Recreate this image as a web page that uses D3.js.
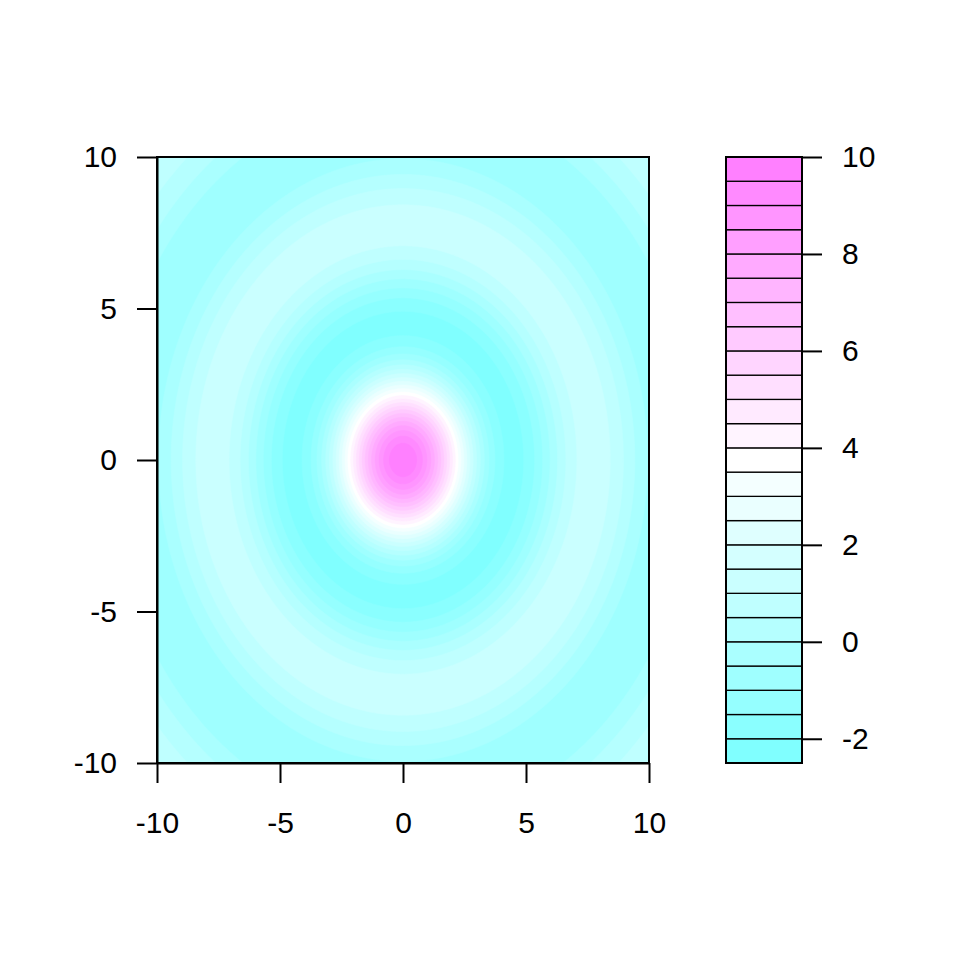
<!DOCTYPE html>
<html><head><meta charset="utf-8">
<script src="https://cdn.jsdelivr.net/npm/d3@7"></script>
<style>body{margin:0;background:#fff}</style>
</head><body>
<svg id="c" width="960" height="960"></svg>
<script>
// Data: surface z = 10*sin(r)/r on [-10,10]^2, filled-contour levels
const xDomain = [-10, 10];
const yDomain = [-10, 10];
const levels = d3.range(-2.5, 10.0001, 0.5).map(v => +v.toFixed(1)); // 26 breaks
const xTicks = [-10, -5, 0, 5, 10];
const yTicks = [-10, -5, 0, 5, 10];
const keyTicks = [-2, 0, 2, 4, 6, 8, 10];

// cm.colors(n) as in R
function cmColors(n) {
  const even = n % 2 === 0, k = Math.floor(n / 2);
  const l1 = k + 1 - (even ? 1 : 0), l2 = n - k + (even ? 1 : 0);
  const cols = [];
  const sEnd = even ? 0.5 / k : 0;
  for (let i = 0; i < l1; i++) {
    const s = l1 === 1 ? 0.5 : 0.5 + (sEnd - 0.5) * i / (l1 - 1);
    cols.push(d3.rgb(255 * (1 - s), 255, 255).formatHex());
  }
  for (let i = 1; i < l2; i++) {
    const s = 0.5 * i / (l2 - 1);
    cols.push(d3.rgb(255, 255 * (1 - s), 255).formatHex());
  }
  return cols;
}
const colors = cmColors(levels.length - 1);

const svg = d3.select("#c");
const font = "'Liberation Sans', Arial, Helvetica, sans-serif";
const plot = {left: 157, right: 649, top: 157, bottom: 763};
const key = {left: 726, right: 802, top: 157, bottom: 763};
const fmt = d => String(d);

const x = d3.scaleLinear().domain(xDomain).range([plot.left, plot.right]);
const y = d3.scaleLinear().domain(yDomain).range([plot.bottom, plot.top]);

// grid
const nx = 401, ny = 401;
const vals = new Float64Array(nx * ny);
const gx = i => xDomain[0] + (xDomain[1] - xDomain[0]) * i / (nx - 1);
const gy = j => yDomain[0] + (yDomain[1] - yDomain[0]) * j / (ny - 1);
for (let j = 0; j < ny; j++) for (let i = 0; i < nx; i++) {
  const r = Math.hypot(gx(i), gy(j));
  vals[j * nx + i] = r === 0 ? 10 : 10 * Math.sin(r) / r;
}
const contours = d3.contours().size([nx, ny]).thresholds(levels.slice(0, -1))(vals);
const proj = d3.geoTransform({
  point(px, py) {
    this.stream.point(x(gx(px - 0.5)), y(gy(py - 0.5)));
  }
});
const path = d3.geoPath(proj);

svg.append("clipPath").attr("id", "clip").append("rect")
  .attr("x", plot.left).attr("y", plot.top)
  .attr("width", plot.right - plot.left).attr("height", plot.bottom - plot.top);

const g = svg.append("g").attr("clip-path", "url(#clip)");
g.append("rect").attr("x", plot.left).attr("y", plot.top)
  .attr("width", plot.right - plot.left).attr("height", plot.bottom - plot.top)
  .attr("fill", colors[0]);
g.selectAll("path").data(contours).join("path")
  .attr("d", path)
  .attr("fill", (d, i) => colors[i])
  .attr("stroke", (d, i) => colors[i]).attr("stroke-width", 0.6);

// frame
svg.append("rect").attr("x", plot.left).attr("y", plot.top)
  .attr("width", plot.right - plot.left).attr("height", plot.bottom - plot.top)
  .attr("fill", "none").attr("stroke", "#000").attr("stroke-width", 2);

function styleAxis(sel) {
  sel.select(".domain").attr("stroke-width", 2);
  sel.selectAll(".tick line").attr("stroke-width", 2);
  sel.selectAll(".tick text").attr("font-family", font).attr("font-size", 30).attr("fill", "#000");
}
const bx = svg.append("g").attr("transform", `translate(0,${plot.bottom})`)
  .call(d3.axisBottom(x).tickValues(xTicks).tickFormat(fmt).tickSize(20).tickPadding(29).tickSizeOuter(0));
styleAxis(bx);
bx.selectAll(".tick text").attr("dy", "0.71em");
const ly = svg.append("g").attr("transform", `translate(${plot.left},0)`)
  .call(d3.axisLeft(y).tickValues(yTicks).tickFormat(fmt).tickSize(20).tickPadding(20).tickSizeOuter(0));
styleAxis(ly);

// key
const ky = d3.scaleLinear().domain([levels[0], levels[levels.length - 1]]).range([key.bottom, key.top]);
svg.append("g").selectAll("rect").data(colors).join("rect")
  .attr("x", key.left).attr("width", key.right - key.left)
  .attr("y", (c, i) => ky(levels[i + 1]))
  .attr("height", (c, i) => ky(levels[i]) - ky(levels[i + 1]))
  .attr("fill", c => c).attr("stroke", "#000").attr("stroke-width", 1.3);
svg.append("rect").attr("x", key.left).attr("y", key.top)
  .attr("width", key.right - key.left).attr("height", key.bottom - key.top)
  .attr("fill", "none").attr("stroke", "#000").attr("stroke-width", 2);
const ra = svg.append("g").attr("transform", `translate(${key.right},0)`)
  .call(d3.axisRight(ky).tickValues(keyTicks).tickFormat(fmt).tickSize(20).tickPadding(20).tickSizeOuter(0));
styleAxis(ra);
ra.select(".domain").remove();
</script>
</body></html>
